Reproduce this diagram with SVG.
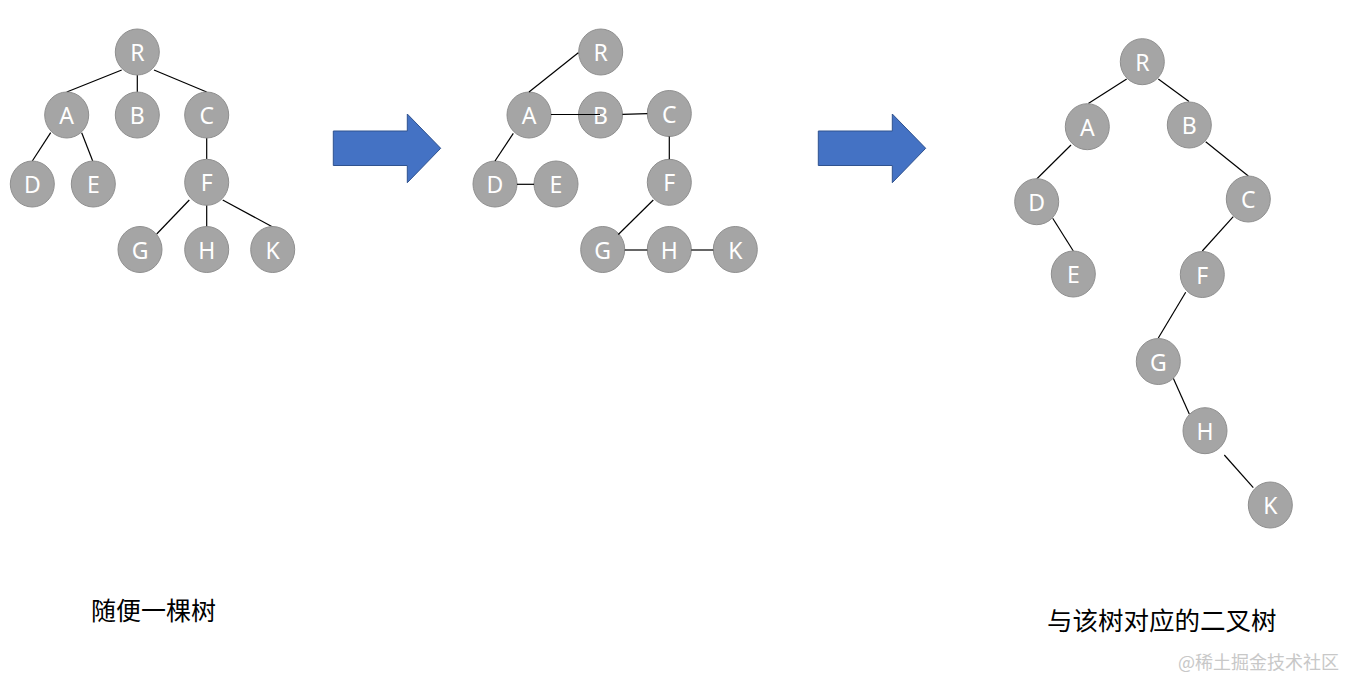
<svg xmlns="http://www.w3.org/2000/svg" width="1360" height="693" viewBox="0 0 1360 693">
<style>
.n ellipse{fill:#A5A5A5;stroke:#8F8F8F;stroke-width:1}
.n text{fill:#fff;font-family:"Noto Sans","Liberation Sans",sans-serif;font-size:23px;text-anchor:middle;dominant-baseline:central}
.e line{stroke:#000;stroke-width:1.2}
.ar{fill:#4472C4;stroke:#2F528F;stroke-width:1}
.lb{font-family:"Noto Sans CJK SC",sans-serif;font-size:25px;fill:#000}
.wm{font-family:"Noto Sans CJK SC",sans-serif;font-size:18px;fill:#C8C8C8}
</style>
<rect width="1360" height="693" fill="#fff"/>
<g id="tree1-connectors" class="e">
<line x1="121.7" y1="70" x2="66.7" y2="92"/>
<line x1="137.3" y1="75" x2="137.3" y2="92"/>
<line x1="154" y1="70" x2="206.7" y2="92"/>
<line x1="50.7" y1="132.7" x2="32.3" y2="161"/>
<line x1="81.7" y1="132.7" x2="92.7" y2="161"/>
<line x1="206.7" y1="138" x2="206.7" y2="159"/>
<line x1="189.3" y1="200" x2="156.7" y2="234"/>
<line x1="206.7" y1="205" x2="206.7" y2="227"/>
<line x1="222.7" y1="200" x2="272.7" y2="227"/>
</g>
<g id="t1-R" class="n"><ellipse cx="137.3" cy="52" rx="22" ry="23"/><text x="137.3" y="52">R</text></g>
<g id="t1-A" class="n"><ellipse cx="66.7" cy="115" rx="22" ry="23"/><text x="66.7" y="115">A</text></g>
<g id="t1-B" class="n"><ellipse cx="137.3" cy="115" rx="22" ry="23"/><text x="137.3" y="115">B</text></g>
<g id="t1-C" class="n"><ellipse cx="206.7" cy="115" rx="22" ry="23"/><text x="206.7" y="115">C</text></g>
<g id="t1-D" class="n"><ellipse cx="32.3" cy="184" rx="22" ry="23"/><text x="32.3" y="184">D</text></g>
<g id="t1-E" class="n"><ellipse cx="93.3" cy="184" rx="22" ry="23"/><text x="93.3" y="184">E</text></g>
<g id="t1-F" class="n"><ellipse cx="206.7" cy="182.3" rx="22" ry="23"/><text x="206.7" y="182.3">F</text></g>
<g id="t1-G" class="n"><ellipse cx="140" cy="249.5" rx="22" ry="23"/><text x="140" y="249.5">G</text></g>
<g id="t1-H" class="n"><ellipse cx="206.7" cy="249.5" rx="22" ry="23"/><text x="206.7" y="249.5">H</text></g>
<g id="t1-K" class="n"><ellipse cx="272.7" cy="249.5" rx="22" ry="23"/><text x="272.7" y="249.5">K</text></g>

<g id="t2-R" class="n"><ellipse cx="600.7" cy="52" rx="22" ry="23"/><text x="600.7" y="52">R</text></g>
<g id="t2-A" class="n"><ellipse cx="529" cy="115" rx="22" ry="23"/><text x="529" y="115">A</text></g>
<g id="t2-B" class="n"><ellipse cx="600.5" cy="115" rx="22" ry="23"/><text x="600.5" y="115">B</text></g>
<g id="t2-C" class="n"><ellipse cx="669.3" cy="113.5" rx="22" ry="23"/><text x="669.3" y="113.5">C</text></g>
<g id="t2-D" class="n"><ellipse cx="495" cy="184" rx="22" ry="23"/><text x="495" y="184">D</text></g>
<g id="t2-E" class="n"><ellipse cx="556" cy="184" rx="22" ry="23"/><text x="556" y="184">E</text></g>
<g id="t2-F" class="n"><ellipse cx="669.3" cy="182.3" rx="22" ry="23"/><text x="669.3" y="182.3">F</text></g>
<g id="t2-G" class="n"><ellipse cx="602.7" cy="249.5" rx="22" ry="23"/><text x="602.7" y="249.5">G</text></g>
<g id="t2-H" class="n"><ellipse cx="669.3" cy="249.5" rx="22" ry="23"/><text x="669.3" y="249.5">H</text></g>
<g id="t2-K" class="n"><ellipse cx="735.3" cy="249.5" rx="22" ry="23"/><text x="735.3" y="249.5">K</text></g>
<g id="tree2-connectors" class="e">
<line x1="578.3" y1="52.7" x2="529" y2="92"/>
<line x1="551" y1="114.5" x2="600" y2="114.5"/>
<line x1="622.5" y1="114.3" x2="647.3" y2="113.7"/>
<line x1="669.3" y1="136.5" x2="669.3" y2="159.3"/>
<line x1="513.3" y1="133.3" x2="495" y2="161"/>
<line x1="517" y1="184.3" x2="534" y2="184.3"/>
<line x1="653.3" y1="200" x2="618.3" y2="234.5"/>
<line x1="624.7" y1="250" x2="647.3" y2="250"/>
<line x1="691.3" y1="250" x2="713.3" y2="250"/>
</g>

<g id="tree3-connectors" class="e">
<line x1="1126.7" y1="79" x2="1088.3" y2="103.5"/>
<line x1="1158.3" y1="79" x2="1189" y2="101.5"/>
<line x1="1071" y1="145" x2="1036.7" y2="179"/>
<line x1="1205.7" y1="141.7" x2="1248.3" y2="176"/>
<line x1="1052.7" y1="218.3" x2="1073.3" y2="251"/>
<line x1="1233.3" y1="216.7" x2="1202.3" y2="251"/>
<line x1="1185.7" y1="292.3" x2="1158.3" y2="338"/>
<line x1="1173.3" y1="378.3" x2="1189.3" y2="414"/>
<line x1="1224.3" y1="455" x2="1253.3" y2="487.7"/>
</g>
<g id="t3-R" class="n"><ellipse cx="1142.3" cy="61.7" rx="22" ry="23"/><text x="1142.3" y="61.7">R</text></g>
<g id="t3-A" class="n"><ellipse cx="1087.3" cy="126.7" rx="22" ry="23"/><text x="1087.3" y="126.7">A</text></g>
<g id="t3-B" class="n"><ellipse cx="1189.3" cy="125" rx="22" ry="23"/><text x="1189.3" y="125">B</text></g>
<g id="t3-D" class="n"><ellipse cx="1036.7" cy="201.7" rx="22" ry="23"/><text x="1036.7" y="201.7">D</text></g>
<g id="t3-C" class="n"><ellipse cx="1248.3" cy="199" rx="22" ry="23"/><text x="1248.3" y="199">C</text></g>
<g id="t3-E" class="n"><ellipse cx="1073.3" cy="274" rx="22" ry="23"/><text x="1073.3" y="274">E</text></g>
<g id="t3-F" class="n"><ellipse cx="1202.3" cy="274.5" rx="22" ry="23"/><text x="1202.3" y="274.5">F</text></g>
<g id="t3-G" class="n"><ellipse cx="1158.3" cy="361.5" rx="22" ry="23"/><text x="1158.3" y="361.5">G</text></g>
<g id="t3-H" class="n"><ellipse cx="1205" cy="430.7" rx="22" ry="23"/><text x="1205" y="430.7">H</text></g>
<g id="t3-K" class="n"><ellipse cx="1270.3" cy="505" rx="22" ry="23"/><text x="1270.3" y="505">K</text></g>

<g id="arrow1"><polygon class="ar" points="333.3,131 407.3,131 407.3,114 440.7,148.3 407.3,182.7 407.3,165.5 333.3,165.5"/></g>
<g id="arrow2"><polygon class="ar" points="818.3,131 892.3,131 892.3,114 925.7,148.3 892.3,182.7 892.3,165.5 818.3,165.5"/></g>

<text class="lb" x="91" y="620">随便一棵树</text>
<text class="lb" x="1047" y="630" style="font-size:25.5px">与该树对应的二叉树</text>
<text class="wm" x="1178" y="669">@稀土掘金技术社区</text>
</svg>
